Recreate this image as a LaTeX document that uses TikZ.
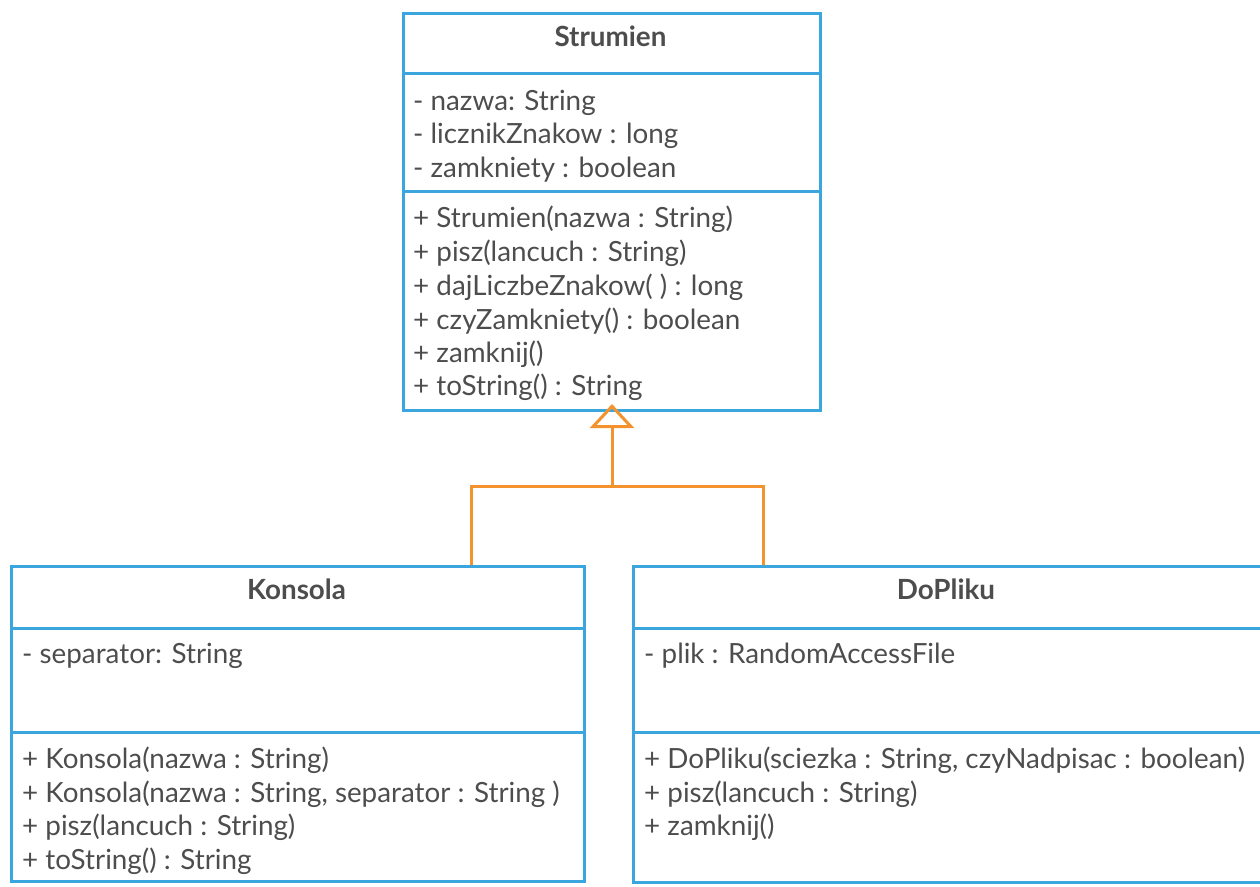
\documentclass[tikz,border=0pt]{standalone}
\usepackage{fontspec}
\setmainfont{Lato}
\usetikzlibrary{arrows.meta}
\definecolor{umlblue}{RGB}{58,166,221}
\definecolor{umlorange}{RGB}{244,146,45}
\definecolor{umltext}{RGB}{77,77,77}
\tikzset{
  classbox/.style={draw=umlblue, line width=3pt, rectangle, inner sep=0pt, anchor=north west},
  divider/.style={draw=umlblue, line width=3pt},
  member/.style={anchor=base west, inner sep=0pt, text=umltext, font=\fontsize{27.8}{33}\selectfont},
  title/.style={anchor=base, inner sep=0pt, text=umltext, font=\fontsize{27.8}{33}\selectfont\bfseries},
  inherit/.style={draw=umlorange, line width=3pt},
}
\begin{document}
\begin{tikzpicture}[x=1pt,y=-1pt]
\useasboundingbox (0,0) rectangle (1260,886);

% class boxes
\node[classbox, minimum width=417pt, minimum height=397pt] (s) at (402,12) {};
\node[classbox, minimum width=573pt, minimum height=315pt] (k) at (10,565) {};
\node[classbox, minimum width=630pt, minimum height=316pt] (d) at (632,565) {};

% compartment dividers
\draw[divider] (402,73) -- (819,73);
\draw[divider] (402,191) -- (819,191);
\draw[divider] (10,628) -- (583,628);
\draw[divider] (10,732) -- (583,732);
\draw[divider] (632,628) -- (1262,628);
\draw[divider] (632,732) -- (1262,732);

% Strumien
\node[title] (s-name) at (610.5,46) {Strumien};
\node[member] (s-a1) at (413,110) {- nazwa: String};
\node[member] (s-a2) at (413,143.5) {- licznikZnakow : long};
\node[member] (s-a3) at (413,177) {- zamkniety : boolean};
\node[member] (s-m1) at (413,227) {+ Strumien(nazwa : String)};
\node[member] (s-m2) at (413,261) {+ pisz(lancuch : String)};
\node[member] (s-m3) at (413,295) {+ dajLiczbeZnakow( ) : long};
\node[member] (s-m4) at (413,329) {+ czyZamkniety() : boolean};
\node[member] (s-m5) at (413,362) {+ zamknij()};
\node[member] (s-m6) at (413,395) {+ toString() : String};

% Konsola
\node[title] (k-name) at (296.5,599) {Konsola};
\node[member] (k-a1) at (22,663) {- separator: String};
\node[member] (k-m1) at (22,768) {+ Konsola(nazwa : String)};
\node[member] (k-m2) at (22,802) {+ Konsola(nazwa : String, separator : String )};
\node[member] (k-m3) at (22,835) {+ pisz(lancuch : String)};
\node[member] (k-m4) at (22,869) {+ toString() : String};

% DoPliku
\node[title] (d-name) at (946,599) {DoPliku};
\node[member] (d-a1) at (644,663) {- plik : RandomAccessFile};
\node[member] (d-m1) at (644,768) {+ DoPliku(sciezka : String, czyNadpisac : boolean)};
\node[member] (d-m2) at (644,802) {+ pisz(lancuch : String)};
\node[member] (d-m3) at (644,835) {+ zamknij()};

% generalization
\coordinate (j) at ([yshift=-74.5pt]s.south);
\draw[inherit, shorten >=-8pt, -{Triangle[open, width=44pt, length=24pt, line width=3pt]}] (j) -- (s.south);
\draw[inherit] ([xshift=173.5pt]k.north) |- (j) -| ([xshift=-185pt]d.north);
\end{tikzpicture}
\end{document}
